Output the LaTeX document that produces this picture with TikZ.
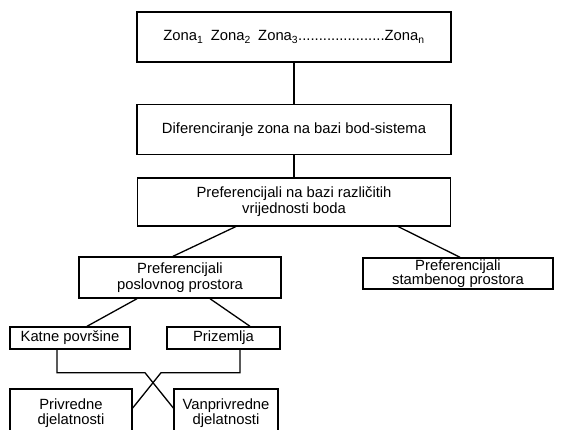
\documentclass[tikz,border=0pt]{standalone}
\usepackage{fontspec}
\setmainfont{Liberation Sans}
\usetikzlibrary{positioning}

\begin{document}
\begin{tikzpicture}[
  x=1pt, y=1pt,
  node distance=22pt,
  levelBox/.style={draw, line width=1.4pt, align=center, inner sep=2pt, font=\fontsize{14.8}{15.5}\selectfont},
  link/.style={line width=1.3pt}
]
\useasboundingbox (0,0) rectangle (561,-429);

% Level 1: zones and bod-sistem
\node[levelBox, minimum width=314pt, minimum height=50pt] (zones) at (294,-37)
  {Zona\textsubscript{1}\enspace Zona\textsubscript{2}\enspace Zona\textsubscript{3}.....................Zona\textsubscript{n}};
\node[levelBox, minimum width=314pt, minimum height=50pt, below=41pt of zones] (diff) {Diferenciranje zona na bazi bod-sistema};
\node[levelBox, minimum width=313pt, minimum height=48pt, below=22pt of diff] (pref) {Preferencijali na bazi različitih\\vrijednosti boda};

% Level 2: poslovni / stambeni prostor
\node[levelBox, minimum width=202pt, minimum height=41pt] (posl) at (180,-277.5) {Preferencijali\\poslovnog prostora};
\node[levelBox, minimum width=190pt, minimum height=31pt, inner sep=1pt,
  font=\fontsize{14.8}{14}\selectfont] (stamb) at (458,-273.5) {Preferencijali\\stambenog prostora};

% Level 3: povrsine
\node[levelBox, minimum width=120pt, minimum height=22pt] (katne) at (70,-338) {Katne površine};
\node[levelBox, minimum width=113pt, minimum height=22pt] (prizem) at (223.5,-338) {Prizemlja};

% Level 4: djelatnosti
\node[levelBox, minimum width=122pt, minimum height=48pt] (privr) at (71,-413) {Privredne\\djelatnosti};
\node[levelBox, minimum width=104pt, minimum height=48pt] (vanpr) at (226,-413) {Vanprivredne\\djelatnosti};

% Connectors
\draw[link] (zones) -- (diff);
\draw[link] (diff) -- (pref);
\draw[link] ([xshift=-58pt]pref.south) -- ([xshift=-7pt]posl.north);
\draw[link] ([xshift=104pt]pref.south) -- ([xshift=2pt]stamb.north);
\draw[link] ([xshift=-43pt]posl.south) -- ([xshift=17pt]katne.north);
\draw[link] ([xshift=30pt]posl.south) -- ([xshift=26.5pt]prizem.north);
\draw[link] ([xshift=-13pt]katne.south) -- ++(0,-23) -- ++(88,0) -- ([yshift=5pt]vanpr.west);
\draw[link] ([xshift=16.5pt]prizem.south) -- ++(0,-23) -- ++(-79,0) -- ([yshift=5pt]privr.east);

\end{tikzpicture}
\end{document}
